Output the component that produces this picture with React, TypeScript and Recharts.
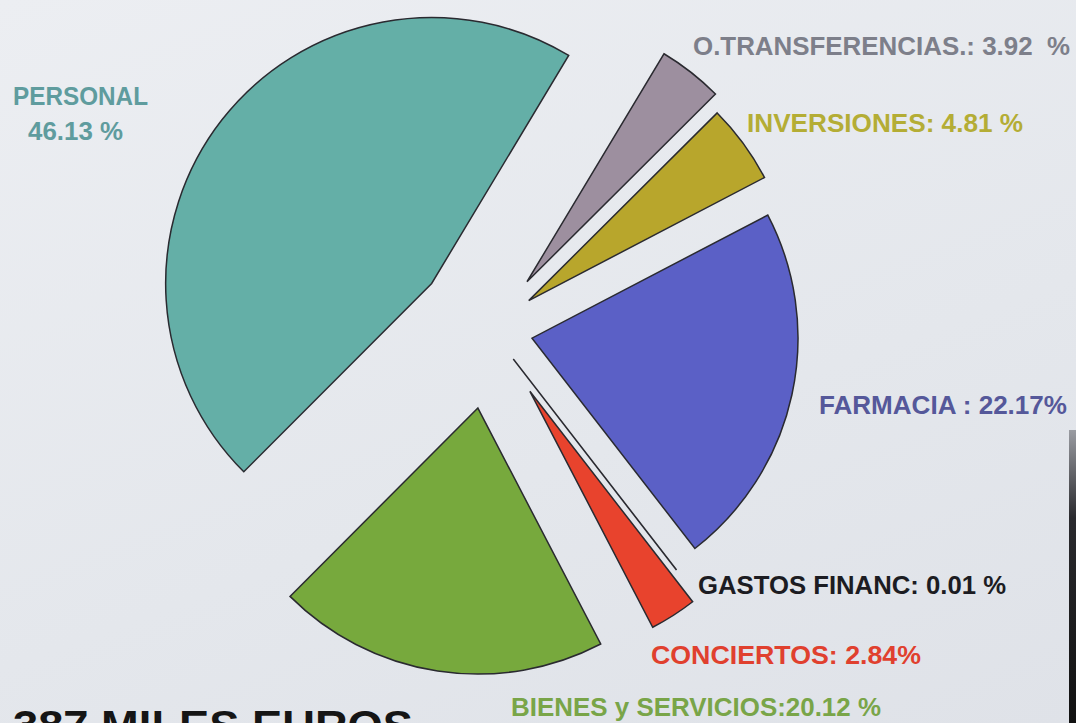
import { Cell, Pie, PieChart } from "recharts";

// Distribución del gasto (%), en el orden del reloj desde el corte superior.
const nombres = [
  "O.TRANSFERENCIAS",
  "INVERSIONES",
  "FARMACIA",
  "GASTOS FINANC",
  "CONCIERTOS",
  "BIENES y SERVICIOS",
  "PERSONAL",
];
const porcentajes = [3.92, 4.81, 22.17, 0.01, 2.84, 20.12, 46.13];
const etiquetas = [
  ["O.TRANSFERENCIAS.: 3.92  %"],
  ["INVERSIONES: 4.81 %"],
  ["FARMACIA : 22.17%"],
  ["GASTOS FINANC: 0.01 %"],
  ["CONCIERTOS: 2.84%"],
  ["BIENES y SERVICIOS:20.12 %"],
  ["PERSONAL", "46.13 %"],
];
const titulo = "387 MILES EUROS";

const colores = ["#9d8f9f", "#b8a62c", "#5b60c6", "#222228", "#e8432d", "#77a93d", "#64afa7"];
const coloresTexto = ["#7d7f8a", "#b4ad35", "#55589a", "#1c1c22", "#e0402e", "#79a548", "#5f9c9e"];
// separación de cada porción respecto al centro (px)
const separacion = [60, 48, 43, 38, 74, 80, 74];
// posición de cada etiqueta: x, línea base, ancho
const posEtiquetas = [
  [[693, 55, 377]],
  [[747, 132, 276]],
  [[819, 414, 248]],
  [[698, 594, 308]],
  [[651, 664, 270]],
  [[511, 716, 370]],
  [
    [13, 105, 135],
    [28, 140, 95],
  ],
];

const W = 1076;
const H = 723;
const CX = 490;
const CY = 329;
const RADIO = 266;
const INICIO = 59;
const FIN = INICIO - 360;

const datos = nombres.map((name, i) => ({ name, value: porcentajes[i] }));
const total = porcentajes.reduce((a, b) => a + b, 0);

function anguloMedio(i: number) {
  const antes = porcentajes.slice(0, i).reduce((a, b) => a + b, 0);
  return INICIO - (360 * (antes + porcentajes[i] / 2)) / total;
}

export default function App() {
  return (
    <div
      style={{
        position: "absolute",
        left: 0,
        top: 0,
        width: W,
        height: H,
        overflow: "hidden",
        background: "linear-gradient(160deg, #eceef2 0%, #e4e7ec 60%, #dfe2e8 100%)",
        fontFamily: "'Liberation Sans', Arial, sans-serif",
      }}
    >
      <PieChart width={W} height={H} margin={{ top: 0, right: 0, bottom: 0, left: 0 }}>
        {datos.map((d, i) => {
          const a = (anguloMedio(i) * Math.PI) / 180;
          return (
            <Pie
              key={d.name}
              data={datos}
              dataKey="value"
              nameKey="name"
              cx={CX + separacion[i] * Math.cos(a)}
              cy={CY - separacion[i] * Math.sin(a)}
              innerRadius={0}
              outerRadius={RADIO}
              startAngle={INICIO}
              endAngle={FIN}
              stroke="none"
              isAnimationActive={false}
            >
              {datos.map((e, j) => (
                <Cell
                  key={e.name}
                  fill={j === i ? colores[j] : "none"}
                  stroke={j === i ? "#2a2a30" : "none"}
                  strokeWidth={j === i ? 1.5 : 0}
                />
              ))}
            </Pie>
          );
        })}
      </PieChart>
      <svg width={W} height={H} style={{ position: "absolute", left: 0, top: 0, pointerEvents: "none" }}>
        {etiquetas.map((lineas, i) =>
          lineas.map((t, k) => {
            const [x, y, ancho] = posEtiquetas[i][k];
            return (
              <text
                key={`${i}-${k}`}
                x={x}
                y={y}
                fontSize={25}
                fontWeight="bold"
                fill={coloresTexto[i]}
                textLength={ancho}
                lengthAdjust="spacingAndGlyphs"
                style={{ whiteSpace: "pre" }}
              >
                {t}
              </text>
            );
          })
        )}
        <text x={13} y={740} fontSize={43} fontWeight="bold" fill="#151515" textLength={400} lengthAdjust="spacingAndGlyphs">
          {titulo}
        </text>
      </svg>
      <div
        style={{
          position: "absolute",
          left: 1069,
          top: 430,
          width: 7,
          height: H - 430,
          background: "linear-gradient(#9a9ca2, #2a2a2e 30%, #111 100%)",
        }}
      />
    </div>
  );
}
